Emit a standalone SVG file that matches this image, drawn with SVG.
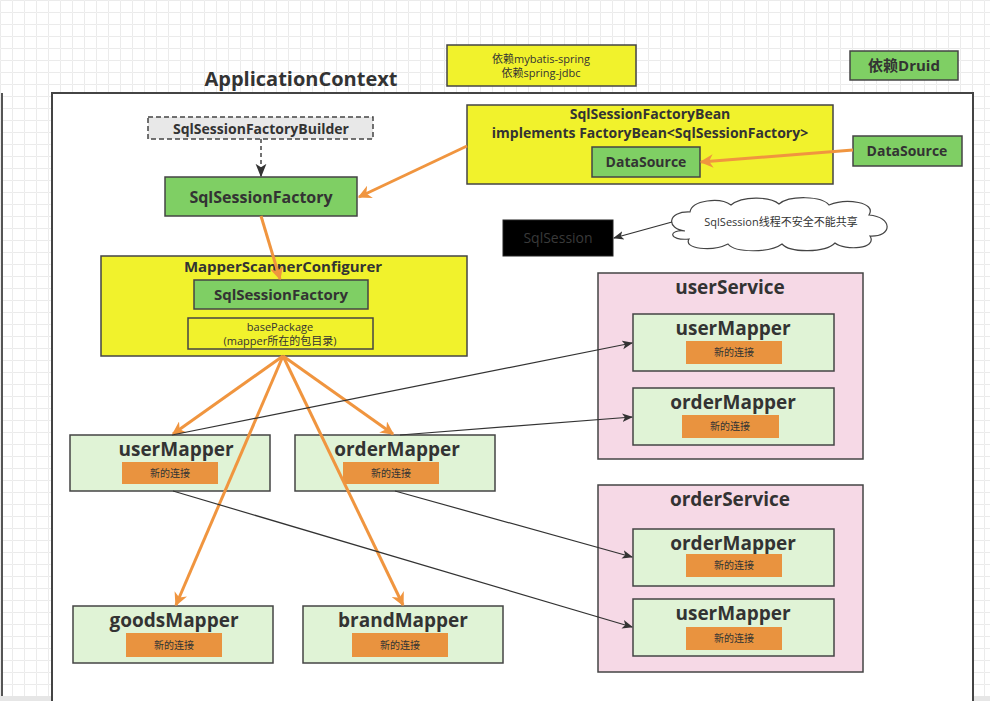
<svg xmlns="http://www.w3.org/2000/svg" width="990" height="701" viewBox="0 0 990 701">
<defs>
<pattern id="grid" width="12" height="12" patternUnits="userSpaceOnUse">
<path d="M12 0.5 H0.5 V12" fill="none" stroke="#ebebeb" stroke-width="1"/>
</pattern>
<marker id="ao" viewBox="0 0 10 10" refX="9" refY="5" markerWidth="4.5" markerHeight="4.5" orient="auto" markerUnits="strokeWidth">
<path d="M0 0 L10 5 L0 10 L3 5 Z" fill="#f0953f"/>
</marker>
<marker id="ab" viewBox="0 0 10 10" refX="9" refY="5" markerWidth="9" markerHeight="9" orient="auto" markerUnits="strokeWidth">
<path d="M0 1 L10 5 L0 9 L2.5 5 Z" fill="#333"/>
</marker>
</defs>
<style>
text{font-family:"Open Sans","Noto Sans CJK SC",sans-serif;text-anchor:middle;fill:#333}
.b{font-weight:bold}
.y{fill:#f1f22c;stroke:#444;stroke-width:1.5}
.g{fill:#7fcf64;stroke:#444;stroke-width:1.5}
.lg{fill:#e0f3d6;stroke:#444;stroke-width:1.5}
.pk{fill:#f6d9e6;stroke:#444;stroke-width:1.5}
.or{fill:#e9933f}
.mt{font-size:19px;font-weight:bold}
.nl{font-size:10px}
.oc{fill:none;stroke:#f0953f;stroke-width:3}
.bc{fill:none;stroke:#333;stroke-width:1.2}
</style>
<rect x="0" y="0" width="990" height="701" fill="#fff"/>
<rect x="0" y="0" width="990" height="701" fill="url(#grid)"/>
<line x1="2" y1="93" x2="2" y2="701" stroke="#555" stroke-width="2"/>
<rect x="0" y="696" width="990" height="5" fill="#e6e6e6"/>

<g id="applicationContext">
<rect x="52" y="93" width="921" height="620" fill="#fff" stroke="#444" stroke-width="2"/>
<text x="301" y="86" class="b" font-size="20">ApplicationContext</text>
</g>

<g id="depMybatis">
<rect x="447" y="45" width="189" height="41" class="y"/>
<text x="541" y="63" font-size="11">依赖mybatis-spring</text>
<text x="541" y="77" font-size="11">依赖spring-jdbc</text>
</g>

<g id="depDruid">
<rect x="850" y="51" width="108" height="29" class="g"/>
<text x="904" y="71" class="b" font-size="15">依赖Druid</text>
</g>

<g id="sqlSessionFactoryBuilder">
<rect x="148" y="117" width="225" height="22" fill="#e8e8e8" stroke="#444" stroke-width="1.5" stroke-dasharray="5 3"/>
<text x="261" y="134" class="b" font-size="14">SqlSessionFactoryBuilder</text>
</g>

<g id="sqlSessionFactory">
<rect x="165" y="177" width="192" height="39" class="g"/>
<text x="261" y="203" class="b" font-size="16">SqlSessionFactory</text>
</g>

<g id="sqlSessionFactoryBean">
<rect x="467" y="105" width="366" height="79" class="y"/>
<text x="650" y="119" class="b" font-size="14">SqlSessionFactoryBean</text>
<text x="650" y="138" class="b" font-size="14">implements FactoryBean&lt;SqlSessionFactory&gt;</text>
<rect x="592" y="147" width="108" height="30" class="g"/>
<text x="646" y="167" class="b" font-size="14">DataSource</text>
</g>

<g id="dataSource">
<rect x="853" y="136" width="109" height="30" class="g"/>
<text x="907" y="156" class="b" font-size="14">DataSource</text>
</g>

<g id="sqlSession">
<rect x="503" y="220" width="110" height="36" fill="#000" stroke="#222"/>
<text x="558" y="243" font-size="14" style="fill:#3a3a3a">SqlSession</text>
</g>

<g id="cloud">
<path d="M685 231 C666 229 667 211 690 212 C692 200 720 197 731 205 C742 196 770 196 779 204 C790 195 822 196 829 205 C846 198 877 202 869 215 C893 217 893 237 870 236 C878 249 845 251 835 243 C825 253 790 253 782 244 C770 253 735 253 728 244 C712 252 683 249 689 239 C668 241 668 229 685 231 Z" fill="#fff" stroke="#444" stroke-width="1.2"/>
<text x="781" y="226" font-size="11">SqlSession线程不安全不能共享</text>
</g>

<g id="mapperScannerConfigurer">
<rect x="101" y="256" width="366" height="100" class="y"/>
<text x="283" y="272" class="b" font-size="15">MapperScannerConfigurer</text>
<rect x="194" y="280" width="174" height="29" class="g"/>
<text x="281" y="300" class="b" font-size="15">SqlSessionFactory</text>
<rect x="188" y="318" width="185" height="31" class="y"/>
<text x="280" y="331" font-size="11">basePackage</text>
<text x="280" y="345" font-size="11">(mapper所在的包目录)</text>
</g>

<g id="userMapper">
<rect x="70" y="435" width="200" height="56" class="lg"/>
<text x="176" y="456" class="mt">userMapper</text>
<rect x="122" y="462" width="96" height="22" class="or"/>
<text x="170" y="477" class="nl">新的连接</text>
</g>

<g id="orderMapper">
<rect x="295" y="435" width="200" height="56" class="lg"/>
<text x="397" y="456" class="mt">orderMapper</text>
<rect x="343" y="462" width="96" height="22" class="or"/>
<text x="391" y="477" class="nl">新的连接</text>
</g>

<g id="goodsMapper">
<rect x="73" y="606" width="200" height="57" class="lg"/>
<text x="174" y="627" class="mt">goodsMapper</text>
<rect x="126" y="633" width="96" height="24" class="or"/>
<text x="174" y="649" class="nl">新的连接</text>
</g>

<g id="brandMapper">
<rect x="303" y="606" width="200" height="57" class="lg"/>
<text x="403" y="627" class="mt">brandMapper</text>
<rect x="352" y="633" width="96" height="24" class="or"/>
<text x="400" y="649" class="nl">新的连接</text>
</g>

<g id="userService">
<rect x="598" y="273" width="265" height="186" class="pk"/>
<text x="730" y="294" class="mt">userService</text>
<rect x="633" y="314" width="201" height="57" class="lg"/>
<text x="733" y="335" class="mt">userMapper</text>
<rect x="686" y="341" width="96" height="23" class="or"/>
<text x="734" y="356" class="nl">新的连接</text>
<rect x="633" y="388" width="201" height="57" class="lg"/>
<text x="733" y="409" class="mt">orderMapper</text>
<rect x="682" y="415" width="97" height="23" class="or"/>
<text x="730" y="430" class="nl">新的连接</text>
</g>

<g id="orderService">
<rect x="598" y="485" width="265" height="187" class="pk"/>
<text x="730" y="506" class="mt">orderService</text>
<rect x="633" y="529" width="201" height="57" class="lg"/>
<text x="733" y="550" class="mt">orderMapper</text>
<rect x="686" y="554" width="96" height="23" class="or"/>
<text x="734" y="569" class="nl">新的连接</text>
<rect x="633" y="599" width="201" height="57" class="lg"/>
<text x="733" y="620" class="mt">userMapper</text>
<rect x="686" y="627" width="96" height="23" class="or"/>
<text x="734" y="642" class="nl">新的连接</text>
</g>

<g id="connectors">
<line x1="261" y1="139" x2="261" y2="176" stroke="#444" stroke-width="1.5" stroke-dasharray="4 3" marker-end="url(#ab)"/>
<line x1="467" y1="146" x2="359" y2="197" class="oc" marker-end="url(#ao)"/>
<line x1="261" y1="216" x2="280" y2="279" class="oc" marker-end="url(#ao)"/>
<line x1="853" y1="150" x2="701" y2="162" class="oc" marker-end="url(#ao)"/>
<line x1="672" y1="222" x2="614" y2="238" class="bc" marker-end="url(#ab)"/>
<line x1="283" y1="356" x2="173" y2="434" class="oc" marker-end="url(#ao)"/>
<line x1="283" y1="356" x2="393" y2="434" class="oc" marker-end="url(#ao)"/>
<line x1="283" y1="356" x2="176" y2="605" class="oc" marker-end="url(#ao)"/>
<line x1="283" y1="356" x2="403" y2="605" class="oc" marker-end="url(#ao)"/>
<line x1="172" y1="435" x2="632" y2="343" class="bc" marker-end="url(#ab)"/>
<line x1="400" y1="435" x2="632" y2="417" class="bc" marker-end="url(#ab)"/>
<line x1="173" y1="491" x2="632" y2="627" class="bc" marker-end="url(#ab)"/>
<line x1="395" y1="491" x2="632" y2="557" class="bc" marker-end="url(#ab)"/>
</g>
</svg>
